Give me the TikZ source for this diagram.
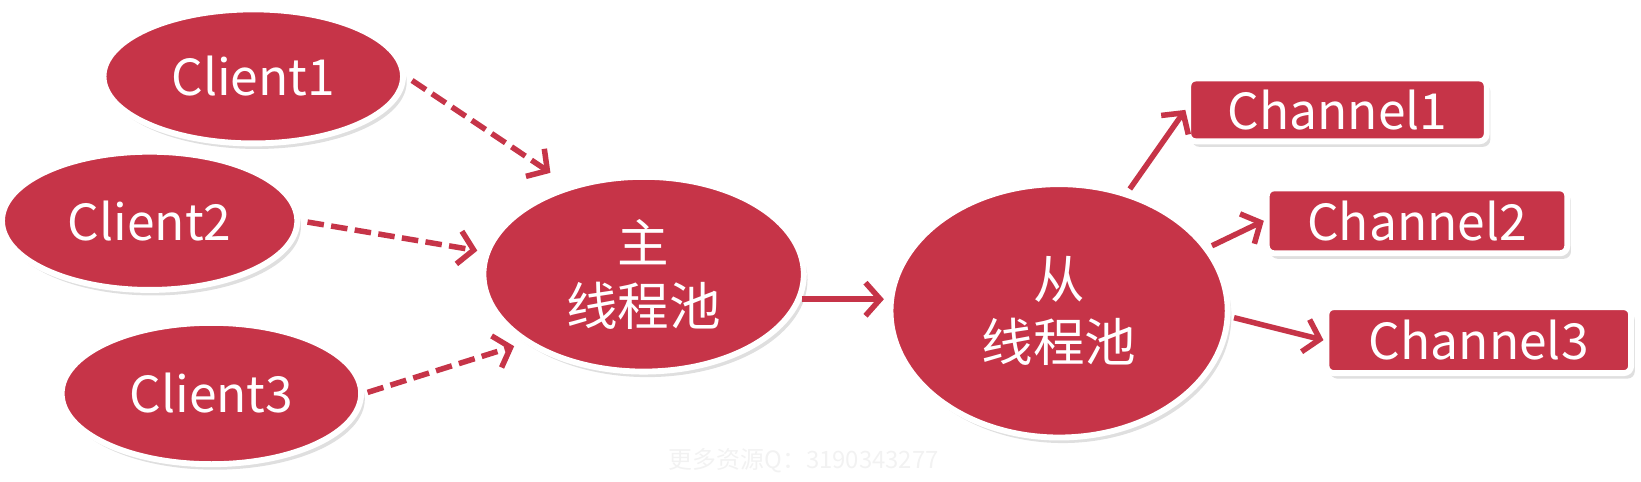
\documentclass[tikz,border=0pt]{standalone}
\usepackage{fontspec}
\setmainfont{Noto Sans CJK SC}
\usetikzlibrary{shapes.geometric,arrows.meta,shadows}
\definecolor{poolred}{RGB}{198,52,72}
\begin{document}
\begin{tikzpicture}[x=0.01cm, y=-0.01cm,
  every node/.style={font=\fontsize{13.5}{16}\selectfont, text=white},
  blob/.style={ellipse, fill=poolred, draw=white, line width=1.6pt, inner sep=0pt,
    drop shadow={opacity=0.25, shadow xshift=1pt, shadow yshift=-1.5pt}},
  chan/.style={rectangle, rounded corners=2pt, fill=poolred, draw=white, line width=1.6pt,
    inner sep=0pt, drop shadow={opacity=0.25, shadow xshift=1pt, shadow yshift=-1.5pt}},
  link/.style={poolred, line width=1.5pt, -{Straight Barb[length=4pt, width=9pt]}},
  dlink/.style={link, dash pattern=on 4.5pt off 2pt}]
  \useasboundingbox (0,0) rectangle (1568,460);
  \node[blob, minimum width=2.86cm, minimum height=1.28cm] (c1) at (242,73) {Client1};
  \node[blob, minimum width=2.82cm, minimum height=1.32cm] (c2) at (143,211) {Client2};
  \node[blob, minimum width=2.86cm, minimum height=1.35cm] (c3) at (202,376) {Client3};
  \node[blob, minimum width=3.06cm, minimum height=1.86cm, align=center,
    font=\fontsize{14}{17}\selectfont] (boss) at (615,262) {主\\线程池};
  \node[blob, minimum width=3.22cm, minimum height=2.42cm, align=center,
    font=\fontsize{14}{17}\selectfont] (worker) at (1012,297) {从\\线程池};
  \node[chan, minimum width=2.85cm, minimum height=0.6cm] (ch1) at (1278,105) {Channel1};
  \node[chan, minimum width=2.87cm, minimum height=0.62cm] (ch2) at (1354,211) {Channel2};
  \node[chan, minimum width=2.91cm, minimum height=0.63cm] (ch3) at (1413,325) {Channel3};
  % clients to boss
  \draw[dlink, shorten <=2pt, shorten >=6pt] (c1.east) -- (boss.130);
  \draw[dlink, shorten <=2pt, shorten >=2pt] (c2.east) -- (boss.172);
  \draw[dlink, shorten <=1pt, shorten >=3pt] (c3.east) -- (boss.210);
  % boss to worker
  \draw[link, shorten >=1pt] (boss.-9) -- (boss.-9 -| worker.west);
  % worker to channels
  \draw[link, shorten <=1pt] (worker.60) -- (ch1.west);
  \draw[link, shorten <=1pt] (worker.23) -- (ch2.west);
  \draw[link, shorten <=1pt] (worker.-2) -- (ch3.west);
  \node[text=gray!10, font=\fontsize{6.5}{8}\selectfont] (wm) at (768,440) {更多资源Q：3190343277};
\end{tikzpicture}
\end{document}
